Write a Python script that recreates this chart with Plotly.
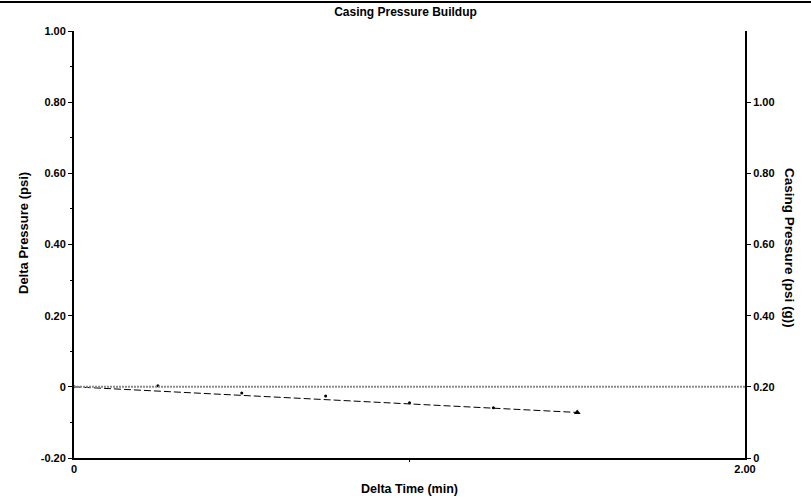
import plotly.graph_objects as go

# Data
time_min = [0, 0.25, 0.5, 0.75, 1.0, 1.25]
delta_p = [0, 0.003, -0.017, -0.026, -0.045, -0.059]
last_time = [1.5]
last_dp = [-0.072]
fit_time = [0, 1.5]
fit_dp = [0, -0.072]
casing_time = [0, 2.0]
casing_p = [0.20, 0.20]

left_vals = [1.0, 0.8, 0.6, 0.4, 0.2, 0, -0.2]
left_text = ["1.00", "0.80", "0.60", "0.40", "0.20", "0", "-0.20"]
right_vals = [0, 0.2, 0.4, 0.6, 0.8, 1.0]
right_text = ["0", "0.20", "0.40", "0.60", "0.80", "1.00"]
x_vals = [0, 2.0]
x_text = ["0", "2.00"]

font = "Liberation Sans, Arial, sans-serif"
L, R, T, B = 74, 66, 31, 43
W, H = 811, 501
PW, PH = W - L - R, H - T - B

def px(x):
    return (x - L) / PW

def py(y):
    return (H - B - y) / PH

fig = go.Figure()
fig.add_trace(go.Scatter(x=casing_time, y=casing_p, yaxis="y2", mode="lines",
                         line=dict(color="#8a8a8a", width=2, dash="2px,1px"),
                         showlegend=False, hoverinfo="skip"))
fig.add_trace(go.Scatter(x=fit_time, y=fit_dp, mode="lines",
                         line=dict(color="black", width=1, dash="7px,3px"),
                         showlegend=False))
fig.add_trace(go.Scatter(x=time_min, y=delta_p, mode="markers",
                         marker=dict(color="black", size=3, symbol="circle"),
                         showlegend=False))
fig.add_trace(go.Scatter(x=last_time, y=last_dp, mode="markers",
                         marker=dict(color="black", size=6, symbol="triangle-up"),
                         showlegend=False))

tickfont = dict(family=font, size=11, color="black")
common = dict(showgrid=False, zeroline=False, showline=True, linecolor="black", linewidth=2,
              tickcolor="black", tickwidth=1, tickfont=tickfont, automargin=False)

fig.update_layout(
    width=W, height=H,
    margin=dict(l=L, r=R, t=T, b=B, autoexpand=False),
    paper_bgcolor="white", plot_bgcolor="white",
    title=dict(text="<b>Casing Pressure Buildup</b>", x=0.5, xanchor="center",
               y=1 - 12/H, yanchor="middle",
               font=dict(family=font, size=12, color="black")),
    xaxis=dict(range=[0, 2.0], tickvals=x_vals, ticktext=["<b>%s</b>" % t for t in x_text],
               ticks="", ticklen=0,
               minor=dict(tickvals=[1.0], ticks="outside", ticklen=2, tickcolor="black"),
               **common),
    yaxis=dict(range=[-0.2, 1.0], tickvals=left_vals, ticktext=["<b>%s</b>" % t for t in left_text],
               ticks="outside", ticklen=4,
               minor=dict(tickvals=[0.9, 0.7, 0.5, 0.3, 0.1, -0.1], ticks="outside",
                          ticklen=2, tickcolor="black"),
               **common),
    yaxis2=dict(range=[0, 1.2], overlaying="y", side="right", anchor="x",
                tickvals=right_vals, ticktext=["<b>%s</b>" % t for t in right_text],
                ticks="outside", ticklen=4,
                **common),
)

fig.add_annotation(text="<b>Delta Time (min)</b>", xref="paper", yref="paper",
                   x=0.5, y=py(489), xanchor="center", yanchor="middle", showarrow=False,
                   font=dict(family=font, size=12.5, color="black"))
fig.add_annotation(text="<b>Delta Pressure (psi)</b>", xref="paper", yref="paper",
                   x=px(23), y=py(233), xanchor="center", yanchor="middle",
                   textangle=-90, showarrow=False,
                   font=dict(family=font, size=13, color="black"))
fig.add_annotation(text="<b>Casing Pressure (psi (g))</b>", xref="paper", yref="paper",
                   x=px(790), y=py(248), xanchor="center", yanchor="middle",
                   textangle=90, showarrow=False,
                   font=dict(family=font, size=13.5, color="black"))

fig.add_shape(type="line", xref="paper", yref="paper",
              x0=px(0), x1=px(W), y0=py(2), y1=py(2),
              line=dict(color="black", width=2))

fig.write_html("out.html", config={"displayModeBar": False},
               post_script="document.body.style.margin='0';")
